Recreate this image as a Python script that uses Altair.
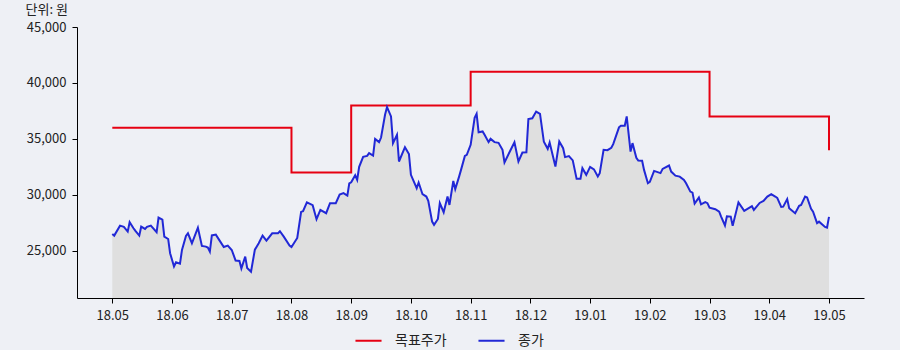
import altair as alt
import pandas as pd

# ---- data ----
close_dates = [
    "2018-05-01", "2018-05-02", "2018-05-05", "2018-05-07", "2018-05-09", "2018-05-10", "2018-05-12",
    "2018-05-13", "2018-05-15", "2018-05-16", "2018-05-18", "2018-05-19", "2018-05-21", "2018-05-24",
    "2018-05-25", "2018-05-27", "2018-05-28", "2018-05-30", "2018-05-31",
    "2018-06-02", "2018-06-03", "2018-06-05", "2018-06-06", "2018-06-08", "2018-06-09", "2018-06-11",
    "2018-06-13", "2018-06-14", "2018-06-16", "2018-06-18", "2018-06-19", "2018-06-20", "2018-06-21",
    "2018-06-23", "2018-06-25", "2018-06-27", "2018-06-29",
    "2018-07-01", "2018-07-03", "2018-07-05", "2018-07-06", "2018-07-08", "2018-07-09", "2018-07-11",
    "2018-07-13", "2018-07-15", "2018-07-17", "2018-07-19", "2018-07-22", "2018-07-25", "2018-07-26",
    "2018-07-28", "2018-07-31",
    "2018-08-01", "2018-08-04", "2018-08-06", "2018-08-07", "2018-08-09", "2018-08-12", "2018-08-14",
    "2018-08-16", "2018-08-19", "2018-08-21", "2018-08-24", "2018-08-26", "2018-08-28", "2018-08-30",
    "2018-08-31",
    "2018-09-01", "2018-09-03", "2018-09-04", "2018-09-05", "2018-09-07", "2018-09-09", "2018-09-10",
    "2018-09-12", "2018-09-13", "2018-09-15", "2018-09-16", "2018-09-18", "2018-09-19", "2018-09-21",
    "2018-09-22", "2018-09-24", "2018-09-25", "2018-09-28", "2018-09-30",
    "2018-10-01", "2018-10-04", "2018-10-05", "2018-10-07", "2018-10-09", "2018-10-10", "2018-10-12",
    "2018-10-13", "2018-10-15", "2018-10-16", "2018-10-18", "2018-10-20", "2018-10-21", "2018-10-23",
    "2018-10-24", "2018-10-26", "2018-10-27", "2018-10-29", "2018-10-30",
    "2018-11-01", "2018-11-03", "2018-11-04", "2018-11-05", "2018-11-07", "2018-11-08", "2018-11-10",
    "2018-11-11", "2018-11-13", "2018-11-15", "2018-11-17", "2018-11-18", "2018-11-21", "2018-11-23",
    "2018-11-25", "2018-11-27", "2018-11-29", "2018-11-30",
    "2018-12-02", "2018-12-04", "2018-12-06", "2018-12-08", "2018-12-10", "2018-12-11", "2018-12-14",
    "2018-12-16", "2018-12-18", "2018-12-19", "2018-12-21", "2018-12-23", "2018-12-25", "2018-12-27",
    "2018-12-28", "2018-12-30",
    "2019-01-01", "2019-01-03", "2019-01-05", "2019-01-06", "2019-01-08", "2019-01-10", "2019-01-12",
    "2019-01-13", "2019-01-16", "2019-01-17", "2019-01-19", "2019-01-20", "2019-01-22", "2019-01-23",
    "2019-01-25", "2019-01-26", "2019-01-28", "2019-01-29", "2019-01-31",
    "2019-02-01", "2019-02-03", "2019-02-06", "2019-02-07", "2019-02-10", "2019-02-11", "2019-02-13",
    "2019-02-15", "2019-02-17", "2019-02-18", "2019-02-20", "2019-02-21", "2019-02-22", "2019-02-24",
    "2019-02-25", "2019-02-27", "2019-02-28",
    "2019-03-01", "2019-03-04", "2019-03-06", "2019-03-07", "2019-03-09", "2019-03-10", "2019-03-12",
    "2019-03-13", "2019-03-16", "2019-03-19", "2019-03-23", "2019-03-24", "2019-03-27", "2019-03-29",
    "2019-03-31",
    "2019-04-02", "2019-04-04", "2019-04-05", "2019-04-07", "2019-04-08", "2019-04-10", "2019-04-11",
    "2019-04-14", "2019-04-16", "2019-04-17", "2019-04-19", "2019-04-20", "2019-04-22", "2019-04-23",
    "2019-04-25", "2019-04-26", "2019-04-29", "2019-04-30", "2019-05-01",
]
close_values = [
    26520, 26370, 27260, 27150, 26730, 27570, 27030,
    26790, 26370, 27170, 26970, 27150, 27260, 26670,
    27980, 27800, 26280, 26070, 24800,
    23620, 23990, 23870, 25090, 26340, 26580, 25690,
    26610, 27080, 25450, 25390, 25300, 24940, 26390,
    26460, 25900, 25360, 25480,
    25090, 24150, 24110, 23440, 24490, 23480, 23150,
    25120, 25690, 26370, 25920, 26580, 26580, 26760,
    26280, 25490,
    25360, 26160, 28490, 28550, 29340, 29090, 27840,
    28670, 28370, 29270, 29270, 30030, 30160, 29940,
    31040,
    31130, 31770, 31350, 32510, 33400, 33490, 33740,
    33520, 35010, 34720, 35130, 37160, 37850, 37010,
    34630, 35370, 32990, 34270, 33650,
    31800, 30610, 31110, 30070, 29860, 29470, 27620,
    27330, 27860, 29270, 28460, 29860, 29110, 31260,
    30520, 31640, 32240, 33490, 33580,
    34480, 36890, 37250, 35600, 35670, 35370, 34720,
    35010, 34720, 34660, 34030, 32900, 33990, 34700,
    32990, 33790, 33810, 36780,
    36850, 37450, 37250, 34750, 34120, 34680, 32540,
    34770, 34180, 33380, 33470, 33090, 31440, 31440,
    32390, 31800,
    32510, 32290, 31660, 31950, 34030, 34000, 34210,
    34540, 36040, 36190, 36180, 37010, 33880, 34630,
    33320, 33070, 33050, 32240, 31050,
    31170, 32150, 31950, 32330, 32630, 32090, 31730,
    31640, 31350, 31050, 30300, 30210, 29230, 29770,
    29160, 29360, 29270,
    28870, 28730, 28510, 28070, 27280, 28100, 28070,
    27240, 29340, 28580, 29000, 28670, 29290, 29470,
    29860,
    30080, 29860, 29740, 28930, 28960, 29630, 28820,
    28370, 29040, 29110, 29860, 29780, 28760, 28510,
    27480, 27620, 27150, 27080, 28040,
]

target_dates = ["2018-05-01", "2018-08-01", "2018-09-01", "2018-11-01", "2019-03-01", "2019-05-01"]
target_values = [36000, 32000, 38000, 41000, 37000, 34000]

tick_labels = ["18.05", "18.06", "18.07", "18.08", "18.09", "18.10", "18.11",
               "18.12", "19.01", "19.02", "19.03", "19.04", "19.05"]
y_ticks = [25000, 30000, 35000, 40000, 45000]
series_names = ["목표주가", "종가"]
series_colors = ["#e60012", "#2128d6"]

FONT = "Noto Sans CJK KR"
TEXT = "#222222"


def month_pos(dates):
    d = pd.to_datetime(pd.Series(dates))
    return ((d.dt.year - 2018) * 12 + (d.dt.month - 5)
            + (d.dt.day - 1) / d.dt.days_in_month).tolist()


close_df = pd.DataFrame({"pos": month_pos(close_dates), "value": close_values,
                         "series": series_names[1]})
target_df = pd.DataFrame({"pos": month_pos(target_dates), "value": target_values,
                          "series": series_names[0]})

label_expr = "[" + ",".join("'%s'" % t for t in tick_labels) + "][datum.value]"

x_enc = alt.X("pos:Q",
              scale=alt.Scale(domain=[-0.591, 12.586], nice=False, zero=False),
              axis=alt.Axis(values=list(range(len(tick_labels))), labelExpr=label_expr,
                            title=None, grid=False, domainColor="black", tickColor="black",
                            tickSize=5, labelPadding=6, labelFontSize=13, labelColor=TEXT,
                            labelFont=FONT))
y_enc = alt.Y("value:Q",
              scale=alt.Scale(domain=[20800, 45000], nice=False, zero=False),
              axis=alt.Axis(values=y_ticks, format=",.0f", title="단위: 원", titleAngle=0,
                            titleX=-52, titleY=-11, titleAlign="left",
                            titleBaseline="bottom", titleFontSize=13,
                            titleFontWeight="normal", titleColor=TEXT, titleFont=FONT,
                            grid=False, domainColor="black", tickColor="black",
                            tickSize=5, labelPadding=6, labelFontSize=13,
                            labelColor=TEXT, labelFont=FONT))

color_enc = alt.Color("series:N",
                      scale=alt.Scale(domain=series_names, range=series_colors),
                      legend=alt.Legend(title=None, orient="none", legendX=277, legendY=299,
                                        direction="horizontal", symbolType="stroke",
                                        symbolSize=680, symbolStrokeWidth=2,
                                        labelFontSize=14, labelColor=TEXT, labelFont=FONT,
                                        labelOffset=12, columnPadding=27))

area = alt.Chart(close_df).mark_area(color="#dfdfdf", opacity=1).encode(
    x=x_enc, y=y_enc, y2=alt.datum(20800))

close_line = alt.Chart(close_df).mark_line(strokeWidth=2).encode(
    x=x_enc, y=y_enc, color=color_enc)

target_line = alt.Chart(target_df).mark_line(strokeWidth=2, interpolate="step-after").encode(
    x=x_enc, y=y_enc, color=color_enc)

chart = alt.layer(area, target_line, close_line).properties(
    width=787, height=271,
    background="#eef0f5",
    padding={"left": 77, "top": 27, "right": 36, "bottom": 52},
    autosize=alt.AutoSizeParams(type="none"),
).configure_view(stroke=None)

chart.save("out.html", embed_options={"renderer": "svg", "actions": False})
